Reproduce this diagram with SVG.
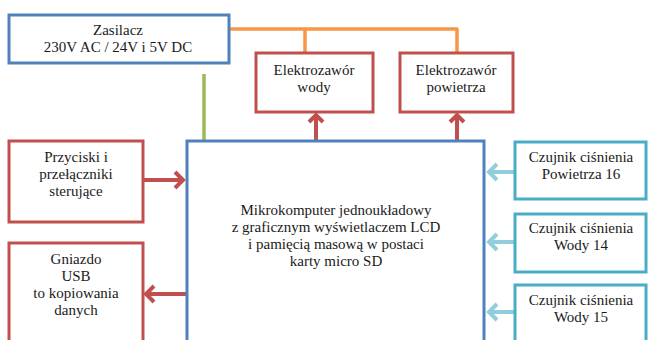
<svg xmlns="http://www.w3.org/2000/svg" width="649" height="340" viewBox="0 0 649 340">
<defs>
<style>
text{font-family:"Liberation Serif","Times New Roman",serif;font-size:15px;fill:#1a1a1a;text-anchor:middle}
.bb{fill:#fff;stroke:#4F81BD;stroke-width:3}
.rb{fill:#fff;stroke:#C0504D;stroke-width:3}
.cb{fill:#fff;stroke:#4BACC6;stroke-width:3}
.ra{fill:none;stroke:#C0504D;stroke-width:4}
.ca{fill:none;stroke:#92CDDC;stroke-width:4}
</style>
</defs>
<rect width="649" height="340" fill="#fff"/>
<g id="connectors">
<path d="M229 29H457V53M305 29V53" fill="none" stroke="#F79646" stroke-width="3.5" stroke-linejoin="round"/>
<path d="M204 74V140" stroke="#9BBB59" stroke-width="3.5"/>
<path class="ra" d="M316 140V115M309 122L316 115L323 122"/>
<path class="ra" d="M457 140V115M450 122L457 115L464 122"/>
<path class="ra" d="M143 180H183M175 172L183 180L175 188"/>
<path class="ra" d="M186 294H146M154 286L146 294L154 302"/>
<path class="ca" d="M514 172H489M497 164L489 172L497 180"/>
<path class="ca" d="M514 242H489M497 234L489 242L497 250"/>
<path class="ca" d="M514 312H489M497 304L489 312L497 320"/>
</g>
<g id="zasilacz">
<rect class="bb" x="9" y="15" width="220" height="48"/>
<text x="118" y="35">Zasilacz</text>
<text x="118" y="52">230V AC / 24V i 5V DC</text>
</g>
<g id="elektrozawor-wody">
<rect class="rb" x="256" y="53" width="117" height="59"/>
<text x="314" y="75">Elektrozawór</text>
<text x="314" y="92">wody</text>
</g>
<g id="elektrozawor-powietrza">
<rect class="rb" x="400" y="53" width="113" height="59"/>
<text x="456" y="75">Elektrozawór</text>
<text x="456" y="92">powietrza</text>
</g>
<g id="mikrokomputer">
<rect class="bb" x="187" y="141" width="297" height="210"/>
<text x="336" y="215">Mikrokomputer jednoukładowy</text>
<text x="336" y="232">z graficznym wyświetlaczem LCD</text>
<text x="336" y="249">i pamięcią masową w postaci</text>
<text x="336" y="266">karty micro SD</text>
</g>
<g id="przyciski">
<rect class="rb" x="9" y="141" width="134" height="81"/>
<text x="76" y="162">Przyciski i</text>
<text x="76" y="179">przełączniki</text>
<text x="76" y="196">sterujące</text>
</g>
<g id="gniazdo">
<rect class="rb" x="9" y="243" width="134" height="110"/>
<text x="76" y="264">Gniazdo</text>
<text x="76" y="281">USB</text>
<text x="76" y="298">to kopiowania</text>
<text x="76" y="315">danych</text>
</g>
<g id="czujnik-16">
<rect class="cb" x="515" y="142" width="131" height="57"/>
<text x="581" y="162">Czujnik ciśnienia</text>
<text x="581" y="179">Powietrza 16</text>
</g>
<g id="czujnik-14">
<rect class="cb" x="515" y="214" width="131" height="58"/>
<text x="581" y="233">Czujnik ciśnienia</text>
<text x="581" y="250">Wody 14</text>
</g>
<g id="czujnik-15">
<rect class="cb" x="515" y="285" width="131" height="70"/>
<text x="581" y="305">Czujnik ciśnienia</text>
<text x="581" y="322">Wody 15</text>
</g>
</svg>
